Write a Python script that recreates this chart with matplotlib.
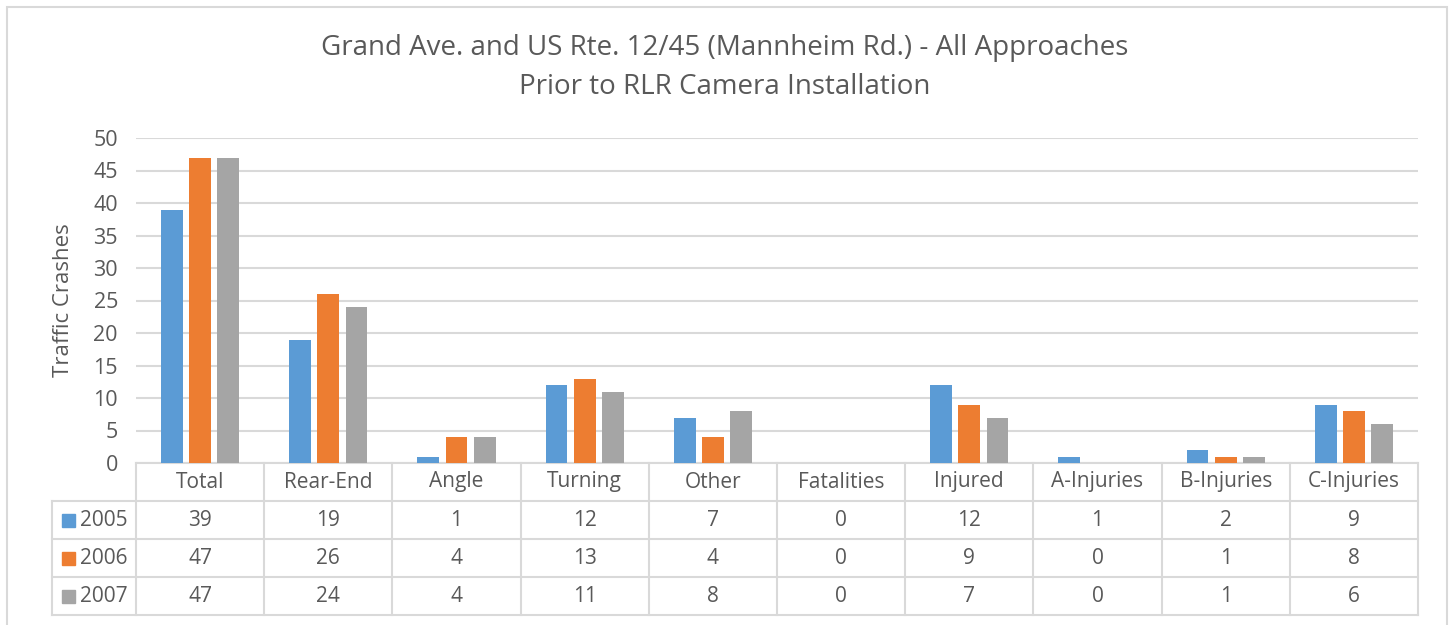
import numpy as np
import matplotlib.pyplot as plt
from matplotlib.patches import Rectangle
from matplotlib.transforms import blended_transform_factory

categories = ['Total', 'Rear-End', 'Angle', 'Turning', 'Other', 'Fatalities',
              'Injured', 'A-Injuries', 'B-Injuries', 'C-Injuries']
years = ['2005', '2006', '2007']
y2005 = [39, 19, 1, 12, 7, 0, 12, 1, 2, 9]
y2006 = [47, 26, 4, 13, 4, 0, 9, 0, 1, 8]
y2007 = [47, 24, 4, 11, 8, 0, 7, 0, 1, 6]
series = [y2005, y2006, y2007]
colors = ['#5B9BD5', '#ED7D31', '#A5A5A5']

txt = '#595959'
line = '#D9D9D9'
plt.rcParams['font.family'] = ['Open Sans', 'DejaVu Sans']

fig = plt.figure(figsize=(14.5, 6.25), dpi=100)
fig.patches.append(Rectangle((7 / 1450, -0.1), 1440 / 1450, 1.1 - 7 / 625,
                             transform=fig.transFigure, fill=False,
                             edgecolor=line, linewidth=1.5))

ax = fig.add_axes([136 / 1450, 1 - 463 / 625, (1418 - 136) / 1450, (463 - 138) / 625])
x = np.arange(len(categories))
w = 0.17
for i, (vals, c) in enumerate(zip(series, colors)):
    ax.bar(x + (i - 1) * 0.22, vals, w, color=c, zorder=3)

ax.set_xlim(-0.5, len(categories) - 0.5)
ax.set_ylim(0, 50)
ax.set_yticks(range(0, 51, 5))
ax.tick_params(axis='y', length=0, labelsize=15.5, colors=txt, pad=13)
ax.set_xticks([])
ax.grid(axis='y', color=line, linewidth=1.5, zorder=0)
for s in ax.spines.values():
    s.set_visible(False)
ax.set_ylabel('Traffic Crashes', fontsize=16, color=txt, labelpad=14)

fig.text(0.5, 1 - 48 / 625, 'Grand Ave. and US Rte. 12/45 (Mannheim Rd.) - All Approaches',
         ha='center', va='center', fontsize=20, color=txt)
fig.text(0.5, 1 - 87 / 625, 'Prior to RLR Camera Installation',
         ha='center', va='center', fontsize=20, color=txt)

# data table under the axis
tr = blended_transform_factory(ax.transData, ax.transAxes)
rh = 38 / 325
left = -0.5 - 84 / 128.2
n = len(categories)
kw = dict(color=line, linewidth=1.5, transform=tr, clip_on=False)

# horizontal lines
ax.plot([-0.5, n - 0.5], [0, 0], **kw)
for r in range(1, 5):
    ax.plot([left, n - 0.5], [-r * rh, -r * rh], **kw)
# vertical lines
ax.plot([left, left], [-rh, -4 * rh], **kw)
for k in range(n + 1):
    ax.plot([k - 0.5, k - 0.5], [0, -4 * rh], **kw)

fs = 15
for k, cat in enumerate(categories):
    ax.text(k, -0.5 * rh, cat, ha='center', va='center', fontsize=fs,
            color=txt, transform=tr)
for r, (yr, vals, c) in enumerate(zip(years, series, colors)):
    yc = -(r + 1.5) * rh
    ax.add_patch(Rectangle((left + 0.08, yc - 0.02), 0.1, 0.04, color=c,
                           transform=tr, clip_on=False))
    ax.text(left + 0.22, yc, yr, ha='left', va='center', fontsize=fs,
            color=txt, transform=tr)
    for k, v in enumerate(vals):
        ax.text(k, yc, str(v), ha='center', va='center', fontsize=fs,
                color=txt, transform=tr)

fig.savefig('out.png', dpi=100)
